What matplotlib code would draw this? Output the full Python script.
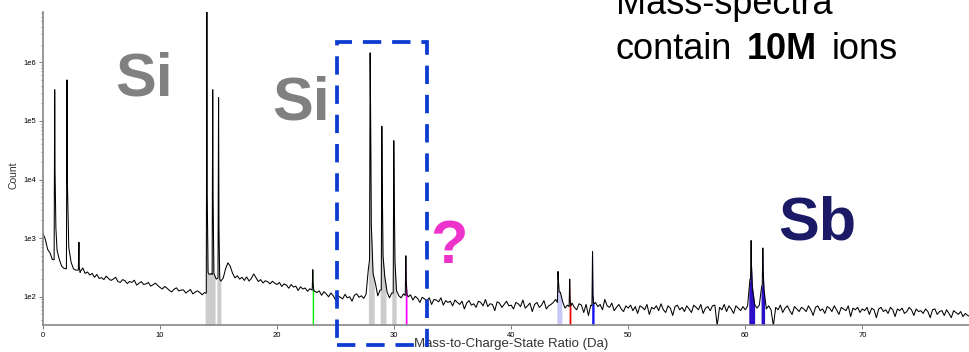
import numpy as np
import matplotlib
matplotlib.use("Agg")
import matplotlib.pyplot as plt
from matplotlib.patches import Rectangle
from matplotlib.ticker import FixedLocator, FuncFormatter, LogLocator

plt.rcParams['font.family'] = ['Liberation Sans', 'DejaVu Sans']

# background counts, one bin every 0.2 Da starting at 0 Da
BIN = 0.2
background = [
    1200, 950, 640, 560, 430, 400, 620, 430, 330, 305, 300, 700, 390, 300, 285, 290, 270, 310, 250, 265, 235, 250, 215, 240, 205,
    212, 196, 225, 205, 190, 200, 215, 182, 176, 196, 188, 168, 182, 176, 192, 158, 170, 181, 162, 166, 175, 152, 160, 171, 156,
    144, 136, 150, 140, 128, 121, 135, 142, 126, 130, 131, 116, 124, 133, 112, 120, 126, 118, 108, 118, 300, 240, 250, 230, 200,
    200, 185, 210, 300, 380, 330, 250, 210, 228, 200, 215, 190, 218, 186, 205, 245, 212, 182, 196, 172, 188, 180, 166, 184, 170,
    162, 175, 150, 166, 158, 140, 162, 146, 152, 128, 148, 136, 141, 124, 137, 130, 125, 118, 126, 106, 122, 112, 100, 116, 104,
    88, 104, 98, 92, 110, 96, 100, 84, 106, 112, 98, 104, 94, 110, 300, 400, 250, 170, 104, 130, 300, 220, 120, 96, 116,
    200, 128, 104, 96, 112, 150, 100, 108, 88, 102, 94, 80, 98, 92, 86, 96, 74, 90, 88, 82, 96, 72, 86, 80, 84,
    70, 88, 80, 74, 84, 62, 78, 86, 72, 76, 66, 84, 80, 70, 90, 68, 76, 74, 58, 82, 78, 66, 74, 84, 70,
    72, 62, 80, 76, 68, 88, 64, 70, 78, 56, 74, 80, 66, 72, 86, 62, 70, 74, 80, 90, 150, 120, 82, 64, 72,
    70, 78, 66, 60, 76, 72, 54, 74, 48, 72, 110, 80, 68, 74, 60, 90, 70, 66, 78, 58, 66, 74, 62, 56, 70,
    64, 72, 58, 68, 52, 70, 66, 60, 74, 50, 66, 62, 70, 58, 76, 60, 54, 70, 64, 48, 68, 72, 60, 66, 56,
    70, 62, 54, 72, 66, 60, 74, 52, 64, 68, 58, 70, 72, 32, 66, 60, 74, 56, 70, 62, 52, 70, 64, 58, 68,
    60, 70, 200, 400, 74, 64, 72, 150, 250, 62, 70, 60, 32, 66, 60, 72, 54, 64, 70, 58, 50, 68, 62, 56, 66,
    62, 56, 70, 60, 48, 66, 70, 58, 62, 52, 68, 64, 56, 70, 60, 50, 66, 62, 58, 70, 46, 64, 60, 66, 54,
    62, 58, 66, 50, 64, 60, 44, 62, 66, 56, 60, 52, 66, 60, 46, 62, 58, 64, 52, 56, 66, 60, 48, 62, 56,
    58, 52, 62, 56, 44, 60, 62, 50, 56, 58, 48, 60, 52, 44, 58, 54, 50, 56, 46, 52, 48, 46,
]

# peaks: position (Da), count at foot, apex, shoulder and tail
peak_mass = [1.0, 2.05, 3.07, 14.0, 14.5, 15.0, 23.05, 27.95, 28.95, 29.97, 31.0, 44.0, 45.0, 46.95, 60.5, 61.5]
peak_base = [430, 300, 285, 115, 240, 210, 130, 430, 130, 115, 105, 80, 68, 70, 200, 160]
peak_top = [3.4e5, 5.0e5, 850, 7.5e6, 3.4e5, 2.5e5, 290, 1.45e6, 8.1e4, 4.6e4, 500, 270, 200, 590, 910, 680]
peak_shoulder = [1.35e4, 1.0e4, 320, 6.0e3, 5.0e3, 1.5e3, 160, 2.5e5, 1.07e4, 9.0e3, 195, 200, 90, 110, 350, 280]
peak_tail = [1500, 2000, 260, 260, 250, 200, 125, 1700, 500, 400, 110, 120, 70, 75, 150, 130]

# ranged ions: (from, to, colour)
range_lo = [13.85, 14.85, 27.8, 28.8, 29.8, 23.0, 30.95, 43.9, 44.95, 46.88, 60.3, 61.35]
range_hi = [14.7, 15.2, 28.3, 29.3, 30.17, 23.12, 31.1, 44.33, 45.1, 47.08, 60.8, 61.65]
range_col = ['#cccccc'] * 5 + ['#00ee00', '#ff00ff', '#c8c8f5', '#ee0000', '#1010ee', '#2a10c8', '#2a10c8']


def build_spectrum():
    mass = np.arange(len(background)) * BIN
    cnt = np.array(background, dtype=float)
    keep = np.ones(len(mass), dtype=bool)
    for m in peak_mass:
        keep &= ~((mass >= m - 0.07) & (mass <= m + 0.12))
    xs = list(mass[keep])
    ys = list(cnt[keep])
    for m, b, t, s, tl in zip(peak_mass, peak_base, peak_top, peak_shoulder, peak_tail):
        xs += [m - 0.05, m, m + 0.03, m + 0.1]
        ys += [b, t, s, tl]
    order = np.argsort(xs)
    return np.array(xs)[order], np.array(ys)[order]


x, y = build_spectrum()

fig = plt.figure(figsize=(9.7, 3.52), dpi=100)
ax = fig.add_axes([43 / 970, 27 / 352, 927 / 970, 313 / 352])

ymin, ymax = 33, 7.2e6
for lo, hi, col in zip(range_lo, range_hi, range_col):
    inside = (x > lo) & (x < hi)
    fx = np.concatenate([[lo], x[inside], [hi]])
    fy = np.concatenate([[np.interp(lo, x, y)], y[inside], [np.interp(hi, x, y)]])
    ax.fill_between(fx, ymin, fy, color=col, lw=0, zorder=1)

ax.plot(x, y, color='black', lw=0.75, zorder=2)

ax.set_yscale('log')
ax.set_xlim(0, 79.2)
ax.set_ylim(ymin, ymax)

ax.yaxis.set_major_locator(FixedLocator([1e2, 1e3, 1e4, 1e5, 1e6]))
ax.yaxis.set_major_formatter(FuncFormatter(lambda v, p: f"1e{int(round(np.log10(v)))}"))
ax.yaxis.set_minor_locator(LogLocator(base=10, subs=np.arange(2, 10)))
ax.xaxis.set_major_locator(FixedLocator([0, 10, 20, 30, 40, 50, 60, 70]))

for s in ['top', 'right']:
    ax.spines[s].set_visible(False)
for s in ['left', 'bottom']:
    ax.spines[s].set_color('#888888')
    ax.spines[s].set_linewidth(1.2)
ax.tick_params(axis='both', which='major', labelsize=5.5, length=3, width=0.6, color='#666666', pad=2)
ax.tick_params(axis='y', which='minor', length=1.5, width=0.5, color='#666666')

ax.set_ylabel('Count', fontsize=7.5, color='#333333')
ax.yaxis.set_label_coords(-0.026, 0.48)
ax.set_xlabel('Mass-to-Charge-State Ratio (Da)', fontsize=9.5, color='#333333')
ax.xaxis.set_label_coords(0.505, -0.04)

# annotations
fig.text(115 / 970, 1 - 96 / 352, 'Si', fontsize=44, fontweight='bold', color='#808080')
fig.text(272 / 970, 1 - 120 / 352, 'Si', fontsize=44, fontweight='bold', color='#808080')
fig.text(430 / 970, 1 - 263 / 352, '?', fontsize=44, fontweight='bold', color='#ee33cc')
fig.text(778 / 970, 1 - 239 / 352, 'Sb', fontsize=44, fontweight='bold', color='#1a1a66')

fig.text(616 / 970, 1 - 14 / 352, 'Mass-spectra', fontsize=26, color='black')
fig.text(616 / 970, 1 - 59 / 352, 'contain', fontsize=26, color='black')
fig.text(747 / 970, 1 - 59 / 352, '10M', fontsize=26, fontweight='bold', color='black')
fig.text(832 / 970, 1 - 59 / 352, 'ions', fontsize=26, color='black')

box = Rectangle((337 / 970, 1 - 345 / 352), 90 / 970, 303 / 352, transform=fig.transFigure,
                fill=False, edgecolor='#0b3bd0', lw=2.7, linestyle=(0, (4.9, 2.9)), clip_on=False)
fig.add_artist(box)

fig.savefig('out.png', dpi=100)
